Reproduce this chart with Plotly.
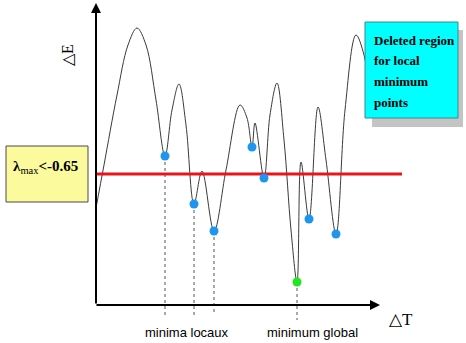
import plotly.graph_objects as go

# Curve (pixel-space coordinates, y grows downward)
curve_x = [96, 104, 117, 128, 137, 146, 156, 165, 172, 179, 186, 194, 202, 214, 226, 240, 247, 252, 255, 264, 270, 277, 284, 291, 297, 301, 309, 318, 326, 336, 345, 356, 364, 372]
curve_y = [208, 165, 95, 45, 28, 45, 100, 156, 110, 84, 125, 204, 171, 231, 170, 105, 118, 147, 123, 178, 115, 83, 140, 230, 282, 162, 219, 107, 160, 234, 110, 35, 55, 110]

# Local minima (blue) and global minimum (green)
local_x = [165, 194, 214, 252, 264, 309, 336]
local_y = [156, 204, 231, 147, 178, 219, 234]
global_x = [297]
global_y = [282]

# Minima annotated with dotted drop lines
drop_x = [165, 194, 214, 297]
drop_y = [156, 204, 231, 282]

threshold_y = 174

fig = go.Figure()

fig.add_trace(go.Scatter(x=curve_x, y=curve_y, mode="lines",
                         line=dict(color="#3a3a3a", width=1, shape="spline", smoothing=1.0),
                         hoverinfo="skip"))

for dx, dy in zip(drop_x, drop_y):
    end = 320 if dx == 297 else 315
    fig.add_trace(go.Scatter(x=[dx, dx], y=[dy, end], mode="lines",
                             line=dict(color="#555555", width=1, dash="dot"), hoverinfo="skip"))

fig.add_trace(go.Scatter(x=[97, 402], y=[threshold_y, threshold_y], mode="lines",
                         line=dict(color="#e8141c", width=3), hoverinfo="skip"))

fig.add_trace(go.Scatter(x=local_x, y=local_y, mode="markers",
                         marker=dict(color="#1e96f0", size=9), hoverinfo="skip"))
fig.add_trace(go.Scatter(x=global_x, y=global_y, mode="markers",
                         marker=dict(color="#22e622", size=9), hoverinfo="skip"))

fig.add_annotation(x=96, y=3, ax=96, ay=305, xref="x", yref="y", axref="x", ayref="y",
                   showarrow=True, arrowhead=2, arrowsize=1, arrowwidth=2, arrowcolor="black", text="")
fig.add_annotation(x=380, y=305, ax=95, ay=305, xref="x", yref="y", axref="x", ayref="y",
                   showarrow=True, arrowhead=2, arrowsize=1, arrowwidth=2, arrowcolor="black", text="")

shapes = [
    dict(type="rect", x0=6, x1=88, y0=146, y1=202, xref="x", yref="y",
         fillcolor="#fbfa9c", line=dict(color="#4a4a4a", width=1), layer="above"),
    dict(type="rect", x0=372, x1=463, y0=30, y1=127, xref="x", yref="y",
         fillcolor="#c4c4c4", line=dict(width=0), layer="above"),
    dict(type="rect", x0=365, x1=458, y0=22, y1=118, xref="x", yref="y",
         fillcolor="#00ffff", line=dict(color="#3d8a8a", width=1), layer="above"),
]
fig.update_layout(shapes=shapes)

serif = "Liberation Serif"
sans = "Liberation Sans"

fig.add_annotation(x=45, y=167, xref="x", yref="y", showarrow=False,
                   text="<b>λ</b><sub>max</sub><b>&lt;-0.65</b>",
                   font=dict(family=serif, size=15, color="black"))

box_lines = ["Deleted region", "for local", "minimum", "points"]
box_y = [40, 60, 81, 102]
for t, yy in zip(box_lines, box_y):
    fig.add_annotation(x=372, y=yy, xref="x", yref="y", showarrow=False, xanchor="left",
                       text="<b>" + t + "</b>", font=dict(family=serif, size=13, color="black"))

fig.add_annotation(x=67, y=55, xref="x", yref="y", showarrow=False, textangle=-90,
                   text="△E", font=dict(family=serif, size=16, color="black"))
fig.add_annotation(x=401, y=319, xref="x", yref="y", showarrow=False,
                   text="△T", font=dict(family=serif, size=17, color="black"))
fig.add_annotation(x=187, y=332, xref="x", yref="y", showarrow=False,
                   text="minima locaux", font=dict(family=sans, size=13, color="black"))
fig.add_annotation(x=312, y=332, xref="x", yref="y", showarrow=False,
                   text="minimum global", font=dict(family=sans, size=13, color="black"))

fig.update_layout(
    width=466, height=343, margin=dict(l=0, r=0, t=0, b=0),
    paper_bgcolor="white", plot_bgcolor="white", showlegend=False,
    xaxis=dict(range=[0, 466], visible=False, fixedrange=True),
    yaxis=dict(range=[343, 0], visible=False, fixedrange=True),
)

fig.write_html("out.html")
